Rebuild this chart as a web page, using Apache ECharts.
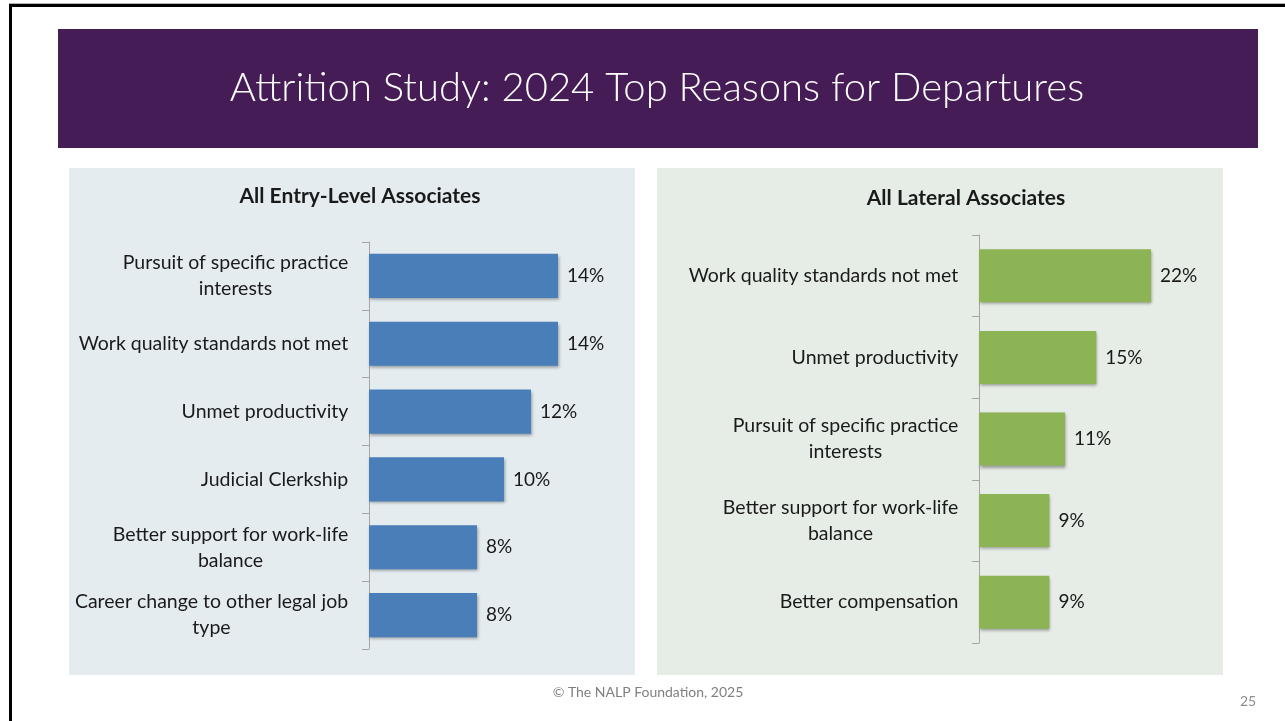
<!DOCTYPE html>
<html>
<head>
<meta charset="utf-8">
<script src="https://cdn.jsdelivr.net/npm/echarts@6/dist/echarts.min.js"></script>
<style>
  html, body { margin: 0; padding: 0; background: #fff; }
  #chart { width: 1285px; height: 721px; }
</style>
</head>
<body>
<div id="chart"></div>
<script>
// data
const entryCategories = [
  'Pursuit of specific practice\ninterests',
  'Work quality standards not met',
  'Unmet productivity',
  'Judicial Clerkship',
  'Better support for work-life\nbalance',
  'Career change to other legal job\ntype'
];
const entryValues = [14, 14, 12, 10, 8, 8];

const lateralCategories = [
  'Work quality standards not met',
  'Unmet productivity',
  'Pursuit of specific practice\ninterests',
  'Better support for work-life\nbalance',
  'Better compensation'
];
const lateralValues = [22, 15, 11, 9, 9];

const FONT = 'Lato';
const LABEL_SIZE = 19.5;
const TEXT_COLOR = '#1a1a1a';

// multi-line labels: lines centred on each other, block right-aligned to axis
const measureCtx = document.createElement('canvas').getContext('2d');
measureCtx.font = LABEL_SIZE + 'px ' + FONT;
function buildRich(cats) {
  const rich = {};
  cats.forEach((c, i) => {
    const w = Math.max(...c.split('\n').map(s => measureCtx.measureText(s).width));
    rich['c' + i] = {
      width: Math.ceil(w) + 1,
      align: 'center',
      fontSize: LABEL_SIZE,
      fontFamily: FONT,
      lineHeight: 26,
      color: TEXT_COLOR
    };
  });
  return rich;
}
function labelFormatter(value, index) {
  return value.split('\n').map(s => '{c' + index + '|' + s + '}').join('\n');
}

function categoryAxis(gridIndex, cats) {
  return {
    type: 'category',
    gridIndex: gridIndex,
    data: cats,
    inverse: true,
    axisLine: { show: true, lineStyle: { color: '#a6a6a6', width: 1 } },
    axisTick: { show: true, interval: 0, length: 7, lineStyle: { color: '#a6a6a6', width: 1 } },
    axisLabel: {
      margin: 20,
      interval: 0,
      formatter: labelFormatter,
      rich: buildRich(cats)
    }
  };
}

function barSeries(idx, values, color) {
  return {
    type: 'bar',
    xAxisIndex: idx,
    yAxisIndex: idx,
    data: values,
    barWidth: '65%',
    itemStyle: {
      color: color,
      shadowColor: 'rgba(0,0,0,0.35)',
      shadowBlur: 3,
      shadowOffsetX: 1,
      shadowOffsetY: 2
    },
    label: {
      show: true,
      position: 'right',
      distance: 9,
      formatter: '{c}%',
      fontFamily: FONT,
      fontSize: 19,
      color: TEXT_COLOR
    },
    silent: true
  };
}

const chart = echarts.init(document.getElementById('chart'));
chart.setOption({
  animation: false,
  textStyle: { fontFamily: FONT },
  graphic: [
    // slide frame
    { type: 'rect', shape: { x: 9, y: 3, width: 1276, height: 1 }, style: { fill: '#b0b0b0' } },
    { type: 'rect', shape: { x: 9, y: 4, width: 1276, height: 3 }, style: { fill: '#000' } },
    { type: 'rect', shape: { x: 9, y: 4, width: 3, height: 717 }, style: { fill: '#000' } },
    // header banner
    { type: 'rect', shape: { x: 58, y: 29, width: 1200, height: 119 }, style: { fill: '#461c56' } },
    {
      type: 'text', x: 657, y: 88,
      style: {
        text: 'Attrition Study: 2024 Top Reasons for Departures',
        fill: '#fff', font: '300 40px ' + FONT, align: 'center', verticalAlign: 'middle'
      }
    },
    // panels
    { type: 'rect', z: -10, shape: { x: 69, y: 168, width: 566, height: 507 }, style: { fill: '#e4ecf0' } },
    { type: 'rect', z: -10, shape: { x: 657, y: 168, width: 566, height: 507 }, style: { fill: '#e6ece6' } },
    {
      type: 'text', x: 360, y: 196,
      style: {
        text: 'All Entry-Level Associates', fill: TEXT_COLOR,
        font: 'bold 21px ' + FONT, align: 'center', verticalAlign: 'middle'
      }
    },
    {
      type: 'text', x: 966, y: 198,
      style: {
        text: 'All Lateral Associates', fill: TEXT_COLOR,
        font: 'bold 21px ' + FONT, align: 'center', verticalAlign: 'middle'
      }
    },
    // footer
    {
      type: 'text', x: 648, y: 692,
      style: {
        text: '\u00a9 The NALP Foundation, 2025', fill: '#7f7f7f',
        font: '14px ' + FONT, align: 'center', verticalAlign: 'middle'
      }
    },
    {
      type: 'text', x: 1248, y: 701,
      style: { text: '25', fill: '#8c8c8c', font: '14px ' + FONT, align: 'center', verticalAlign: 'middle' }
    }
  ],
  grid: [
    { left: 369, top: 242, width: 270, height: 407 },
    { left: 979, top: 235, width: 234.6, height: 408 }
  ],
  xAxis: [
    { type: 'value', gridIndex: 0, min: 0, max: 20, show: false, splitLine: { show: false } },
    { type: 'value', gridIndex: 1, min: 0, max: 30, show: false, splitLine: { show: false } }
  ],
  yAxis: [
    categoryAxis(0, entryCategories),
    categoryAxis(1, lateralCategories)
  ],
  series: [
    barSeries(0, entryValues, '#4a7eb8'),
    barSeries(1, lateralValues, '#8cb455')
  ]
});
</script>
</body>
</html>
